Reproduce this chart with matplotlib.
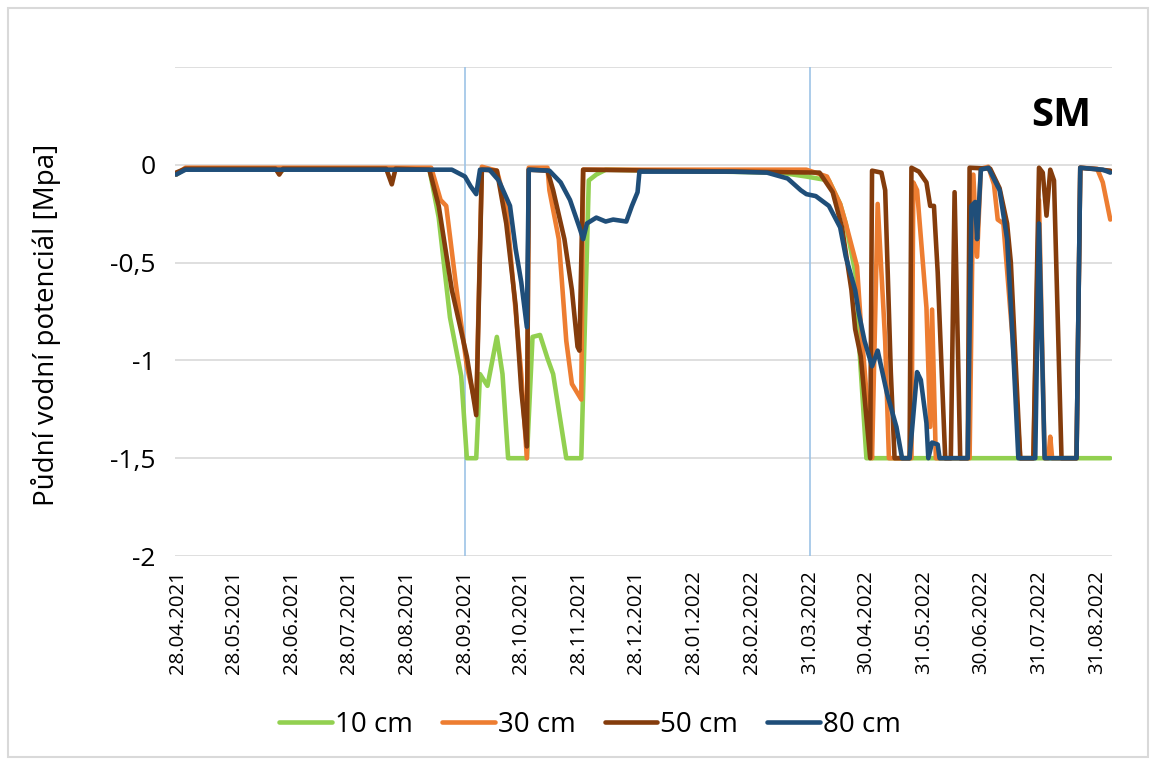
import matplotlib.pyplot as plt
import pandas as pd
from matplotlib.patches import Rectangle

# Soil water potential (MPa), key points read from the measured series
dates_10 = ["2021-04-27", "2021-05-02", "2021-06-19", "2021-06-21", "2021-06-24", "2021-09-09",
            "2021-09-14", "2021-09-20", "2021-09-26", "2021-09-29", "2021-10-04", "2021-10-06",
            "2021-10-10", "2021-10-15", "2021-10-18", "2021-10-21", "2021-10-31", "2021-11-03",
            "2021-11-07", "2021-11-11", "2021-11-14", "2021-11-21", "2021-11-29", "2021-12-03",
            "2021-12-07", "2021-12-12", "2022-03-15", "2022-03-29", "2022-04-10", "2022-04-16",
            "2022-04-19", "2022-04-25", "2022-04-26", "2022-04-30", "2022-09-07"]
vals_10 = [-0.05, -0.02, -0.02, -0.04, -0.02, -0.02,
           -0.27, -0.78, -1.08, -1.5, -1.5, -1.07,
           -1.13, -0.88, -1.07, -1.5, -1.5, -0.88,
           -0.87, -0.99, -1.07, -1.5, -1.5, -0.08,
           -0.05, -0.025, -0.04, -0.06, -0.08, -0.2,
           -0.3, -0.6, -0.9, -1.5, -1.5]

dates_30 = ["2021-04-27", "2021-05-02", "2021-09-10", "2021-09-15", "2021-09-18", "2021-09-23",
            "2021-09-29", "2021-10-04", "2021-10-07", "2021-10-15", "2021-10-20", "2021-10-24",
            "2021-10-28", "2021-10-31", "2021-11-01", "2021-11-11", "2021-11-12", "2021-11-17",
            "2021-11-21", "2021-11-24", "2021-11-29", "2021-11-30", "2022-03-29", "2022-04-09",
            "2022-04-16", "2022-04-19", "2022-04-25", "2022-04-27", "2022-05-02", "2022-05-03",
            "2022-05-06", "2022-05-10", "2022-05-12", "2022-05-24", "2022-05-25", "2022-05-27",
            "2022-06-01", "2022-06-03", "2022-06-04", "2022-06-06", "2022-06-24", "2022-06-26",
            "2022-06-28", "2022-06-30", "2022-07-04", "2022-07-07", "2022-07-09", "2022-07-12",
            "2022-07-17", "2022-07-21", "2022-07-28", "2022-07-31", "2022-08-03", "2022-08-05",
            "2022-08-06", "2022-08-07", "2022-08-20", "2022-08-22", "2022-08-31", "2022-09-03",
            "2022-09-07"]
vals_30 = [-0.05, -0.015, -0.015, -0.18, -0.21, -0.6,
           -1.03, -1.24, -0.01, -0.03, -0.21, -0.64,
           -1.07, -1.5, -0.015, -0.015, -0.13, -0.38,
           -0.9, -1.12, -1.2, -0.025, -0.025, -0.06,
           -0.2, -0.3, -0.52, -0.81, -1.4, -1.5,
           -0.2, -0.9, -1.5, -1.5, -0.09, -0.13,
           -0.73, -1.34, -0.74, -1.5, -1.5, -0.05,
           -0.47, -0.02, -0.01, -0.1, -0.28, -0.3,
           -0.9, -1.5, -1.5, -0.18, -1.5, -1.5,
           -1.39, -1.5, -1.5, -0.015, -0.02, -0.09,
           -0.28]

dates_50 = ["2021-04-27", "2021-05-02", "2021-06-19", "2021-06-21", "2021-06-23", "2021-08-17",
            "2021-08-20", "2021-08-22", "2021-09-09", "2021-09-14", "2021-09-21", "2021-09-29",
            "2021-10-04", "2021-10-07", "2021-10-15", "2021-10-20", "2021-10-25", "2021-10-28",
            "2021-10-31", "2021-11-01", "2021-11-11", "2021-11-14", "2021-11-20", "2021-11-24",
            "2021-11-27", "2021-11-28", "2021-11-30", "2022-04-05", "2022-04-12", "2022-04-17",
            "2022-04-22", "2022-04-24", "2022-04-27", "2022-05-02", "2022-05-03", "2022-05-08",
            "2022-05-10", "2022-05-13", "2022-05-15", "2022-05-23", "2022-05-24", "2022-05-28",
            "2022-06-01", "2022-06-03", "2022-06-05", "2022-06-07", "2022-06-11", "2022-06-14",
            "2022-06-16", "2022-06-19", "2022-06-23", "2022-06-24", "2022-07-05", "2022-07-10",
            "2022-07-14", "2022-07-16", "2022-07-21", "2022-07-28", "2022-07-31", "2022-08-02",
            "2022-08-04", "2022-08-06", "2022-08-08", "2022-08-12", "2022-08-20", "2022-08-22",
            "2022-09-07"]
vals_50 = [-0.04, -0.02, -0.02, -0.05, -0.02, -0.02,
           -0.1, -0.02, -0.025, -0.21, -0.64, -0.98,
           -1.28, -0.025, -0.03, -0.3, -0.72, -1.15,
           -1.44, -0.025, -0.03, -0.13, -0.38, -0.64,
           -0.93, -0.95, -0.025, -0.04, -0.14, -0.32,
           -0.64, -0.84, -0.98, -1.5, -0.03, -0.04,
           -0.13, -1.06, -1.5, -1.5, -0.015, -0.035,
           -0.09, -0.21, -0.21, -0.55, -1.5, -1.5,
           -0.14, -1.5, -1.5, -0.015, -0.02, -0.12,
           -0.3, -0.5, -1.5, -1.5, -0.015, -0.04,
           -0.26, -0.025, -0.08, -1.5, -1.5, -0.015,
           -0.03]

dates_80 = ["2021-04-27", "2021-05-02", "2021-09-21", "2021-09-28", "2021-10-01", "2021-10-04",
            "2021-10-06", "2021-10-11", "2021-10-16", "2021-10-22", "2021-10-25", "2021-10-28",
            "2021-10-31", "2021-11-01", "2021-11-12", "2021-11-18", "2021-11-23", "2021-11-28",
            "2021-11-30", "2021-12-02", "2021-12-07", "2021-12-12", "2021-12-16", "2021-12-23",
            "2021-12-26", "2021-12-29", "2021-12-30", "2022-02-17", "2022-03-08", "2022-03-19",
            "2022-03-26", "2022-03-29", "2022-04-03", "2022-04-10", "2022-04-16", "2022-04-19",
            "2022-04-24", "2022-04-26", "2022-04-29", "2022-05-03", "2022-05-06", "2022-05-11",
            "2022-05-16", "2022-05-19", "2022-05-23", "2022-05-27", "2022-05-29", "2022-06-01",
            "2022-06-02", "2022-06-04", "2022-06-07", "2022-06-08", "2022-06-23", "2022-06-25",
            "2022-06-27", "2022-06-28", "2022-06-30", "2022-07-04", "2022-07-10", "2022-07-14",
            "2022-07-17", "2022-07-20", "2022-07-29", "2022-07-31", "2022-08-03", "2022-08-20",
            "2022-08-22", "2022-09-03", "2022-09-07"]
vals_80 = [-0.05, -0.025, -0.025, -0.06, -0.11, -0.15,
           -0.025, -0.025, -0.08, -0.21, -0.43, -0.6,
           -0.83, -0.025, -0.03, -0.09, -0.18, -0.32,
           -0.38, -0.3, -0.27, -0.29, -0.28, -0.29,
           -0.21, -0.14, -0.035, -0.035, -0.04, -0.07,
           -0.13, -0.15, -0.16, -0.21, -0.32, -0.47,
           -0.64, -0.76, -0.9, -1.03, -0.95, -1.17,
           -1.34, -1.5, -1.5, -1.06, -1.1, -1.32,
           -1.5, -1.42, -1.43, -1.5, -1.5, -0.21,
           -0.19, -0.38, -0.025, -0.015, -0.13, -0.38,
           -0.9, -1.5, -1.5, -0.3, -1.5, -1.5,
           -0.015, -0.025, -0.04]

series_labels = ["10 cm", "30 cm", "50 cm", "80 cm"]
series_colors = ["#92D050", "#ED7D31", "#843C0C", "#1F4E79"]

tick_dates = ["2021-04-28", "2021-05-28", "2021-06-28", "2021-07-28", "2021-08-28", "2021-09-28",
              "2021-10-28", "2021-11-28", "2021-12-28", "2022-01-28", "2022-02-28", "2022-03-31",
              "2022-04-30", "2022-05-31", "2022-06-30", "2022-07-31", "2022-08-31"]
marker_dates = ["2021-09-28", "2022-03-31"]

y_ticks = [0.5, 0, -0.5, -1, -1.5, -2]
y_tick_labels = ["", "0", "-0,5", "-1", "-1,5", "-2"]

fig = plt.figure(figsize=(11.52, 7.62), dpi=100)
ax = fig.add_axes([175 / 1152, 1 - 556 / 762, 937 / 1152, 489 / 762])

all_dates = [dates_10, dates_30, dates_50, dates_80]
all_vals = [vals_10, vals_30, vals_50, vals_80]
for d, v, lab, col in zip(all_dates, all_vals, series_labels, series_colors):
    ax.plot(pd.to_datetime(d), v, color=col, lw=3.3, label=lab,
            solid_joinstyle="round", solid_capstyle="round", zorder=3)

# the two marked dates
for md in marker_dates:
    ax.axvline(pd.Timestamp(md), color="#9DC3E6", lw=1.2, zorder=2)

ax.set_ylim(-2, 0.5)
ax.set_xlim(pd.Timestamp("2021-04-26 10:00"), pd.Timestamp("2022-09-07 22:00"))
ax.set_yticks(y_ticks)
ax.set_yticklabels(y_tick_labels, fontsize=19, family="Open Sans")
ax.set_xticks(pd.to_datetime(tick_dates))
ax.set_xticklabels([pd.Timestamp(t).strftime("%d.%m.%Y") for t in tick_dates],
                   rotation=90, fontsize=14.7, family="Open Sans")
ax.tick_params(length=0)
ax.tick_params(axis="x", pad=10)
ax.tick_params(axis="y", pad=14)
ax.grid(axis="y", color="#D9D9D9", lw=1.2, zorder=0)
for s in ax.spines.values():
    s.set_visible(False)

fig.text(46 / 1152, 1 - 325 / 762, "Půdní vodní potenciál [Mpa]", rotation=90,
         ha="center", va="center", fontsize=20, family="Open Sans")
fig.text(1061 / 1152, 1 - 116 / 762, "SM", ha="center", va="center",
         fontsize=29, fontweight="bold", family="Open Sans")

fig.legend(loc="center", bbox_to_anchor=(590 / 1152, 1 - 725 / 762), ncol=4, frameon=False,
           prop={"family": "Open Sans", "size": 20},
           handlelength=1.9, handletextpad=0.1, columnspacing=1.05)

# light frame around the whole chart, as in the spreadsheet export
fig.patches.append(Rectangle((8 / 1152, 5 / 762), 1140 / 1152, 749 / 762, transform=fig.transFigure,
                             fill=False, edgecolor="#D9D9D9", lw=1.5))

fig.savefig("out.png", dpi=100)
